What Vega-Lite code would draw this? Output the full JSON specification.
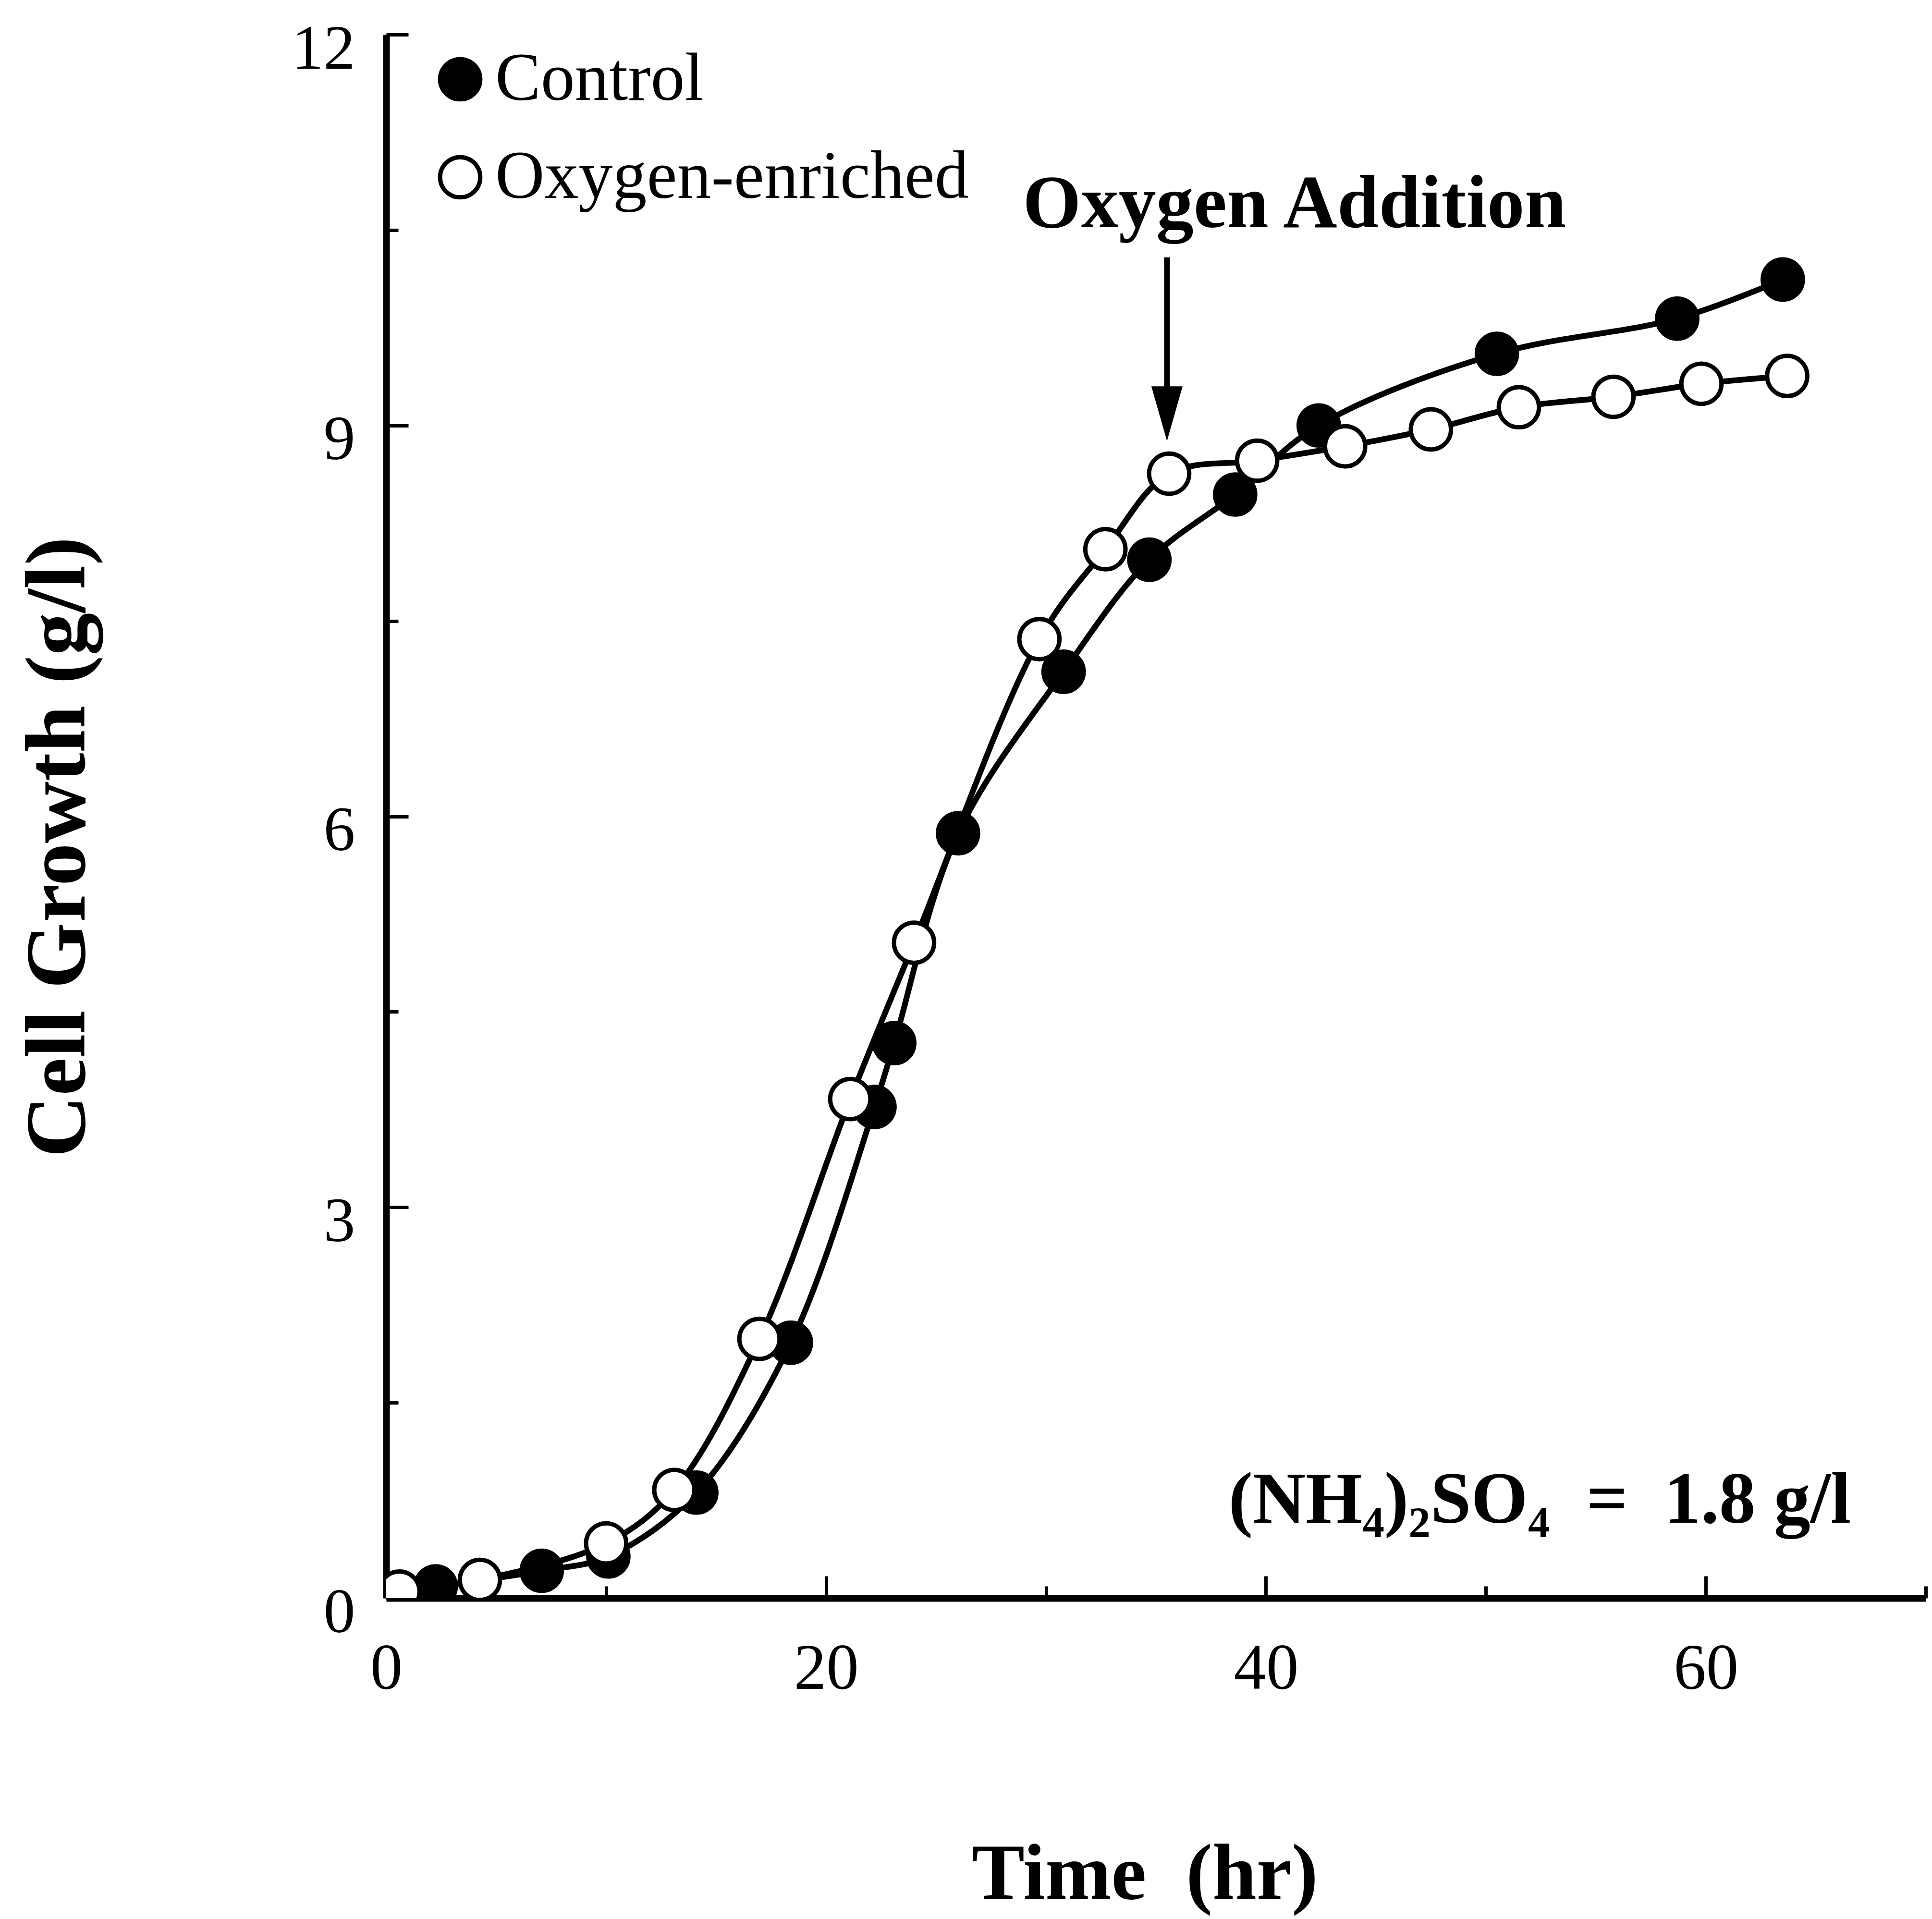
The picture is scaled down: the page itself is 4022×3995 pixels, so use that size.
{
  "$schema": "https://vega.github.io/schema/vega-lite/v6.json",
  "width": 3205,
  "height": 3255,
  "autosize": {"type": "none"},
  "padding": {"left": 804, "top": 72, "right": 13, "bottom": 668},
  "background": "white",
  "config": {"view": {"stroke": null}, "font": "Liberation Serif"},
  "resolve": {"axis": {"x": "independent", "y": "independent"}},
  "datasets": {
    "growth": [
      {"series": "Control", "time": 2.25, "growth": 0.09},
      {"series": "Control", "time": 7.07, "growth": 0.21},
      {"series": "Control", "time": 10.1, "growth": 0.32},
      {"series": "Control", "time": 14.1, "growth": 0.81},
      {"series": "Control", "time": 18.4, "growth": 1.96},
      {"series": "Control", "time": 22.2, "growth": 3.77},
      {"series": "Control", "time": 23.1, "growth": 4.26},
      {"series": "Control", "time": 26.0, "growth": 5.87},
      {"series": "Control", "time": 30.8, "growth": 7.11},
      {"series": "Control", "time": 34.7, "growth": 7.97},
      {"series": "Control", "time": 38.6, "growth": 8.47},
      {"series": "Control", "time": 42.4, "growth": 9.0},
      {"series": "Control", "time": 50.5, "growth": 9.55},
      {"series": "Control", "time": 58.7, "growth": 9.82},
      {"series": "Control", "time": 63.5, "growth": 10.12},
      {"series": "Oxygen-enriched", "time": 0.6, "growth": 0.05},
      {"series": "Oxygen-enriched", "time": 4.26, "growth": 0.14},
      {"series": "Oxygen-enriched", "time": 10.0, "growth": 0.42},
      {"series": "Oxygen-enriched", "time": 13.1, "growth": 0.83},
      {"series": "Oxygen-enriched", "time": 16.97, "growth": 1.99},
      {"series": "Oxygen-enriched", "time": 21.1, "growth": 3.83},
      {"series": "Oxygen-enriched", "time": 24.0, "growth": 5.03},
      {"series": "Oxygen-enriched", "time": 29.7, "growth": 7.36},
      {"series": "Oxygen-enriched", "time": 32.7, "growth": 8.05},
      {"series": "Oxygen-enriched", "time": 35.6, "growth": 8.63},
      {"series": "Oxygen-enriched", "time": 39.6, "growth": 8.73},
      {"series": "Oxygen-enriched", "time": 43.6, "growth": 8.84},
      {"series": "Oxygen-enriched", "time": 47.5, "growth": 8.97},
      {"series": "Oxygen-enriched", "time": 51.5, "growth": 9.14},
      {"series": "Oxygen-enriched", "time": 55.8, "growth": 9.22},
      {"series": "Oxygen-enriched", "time": 59.8, "growth": 9.32},
      {"series": "Oxygen-enriched", "time": 63.7, "growth": 9.38}
    ],
    "arrow": [
      {"time": 35.5, "top": 10.29, "bottom": 9.2, "head": 9.09}
    ],
    "noteCenter": [
      {"time": 41.3, "growth": 10.52, "label": "Oxygen Addition"}
    ],
    "noteRight": [
      {"time": 66.6, "growth": 0.58, "label": "(NH₄)₂SO₄ \u00a0=\u00a0 1.8 g/l"}
    ]
  },
  "layer": [
    {
      "data": {"name": "growth"},
      "mark": {"type": "line", "interpolate": "catmull-rom", "stroke": "black", "strokeWidth": 12, "clip": true},
      "encoding": {
        "x": {
          "field": "time", "type": "quantitative",
          "scale": {"domain": [0, 70], "nice": false, "zero": false},
          "axis": {
            "orient": "bottom",
            "values": [0, 20, 40, 60],
            "format": "d",
            "ticks": false,
            "domainWidth": 14, "domainColor": "black",
            "grid": false, "labelFlush": false, "labelOverlap": false, "labelLimit": 1000,
            "labelFont": "Liberation Serif", "labelFontSize": 135, "labelColor": "black",
            "labelBaseline": "alphabetic", "labelPadding": 188,
            "title": "Time \u00a0(hr)",
            "titleFont": "Liberation Serif", "titleFontWeight": "bold", "titleFontSize": 165, "titleColor": "black",
            "titleX": 1579, "titleY": 625, "titleBaseline": "alphabetic", "titleAlign": "center"
          }
        },
        "y": {
          "field": "growth", "type": "quantitative",
          "scale": {"domain": [0, 12], "nice": false},
          "axis": {
            "orient": "left",
            "values": [0, 3, 6, 9, 12],
            "format": "d",
            "ticks": false,
            "domainWidth": 14, "domainColor": "black",
            "grid": false, "labelFlush": false, "labelOverlap": false, "labelLimit": 1000,
            "labelFont": "Liberation Serif", "labelFontSize": 132, "labelColor": "black",
            "labelBaseline": "middle", "labelPadding": 65, "labelOffset": 30,
            "title": "Cell Growth (g/l)",
            "titleFont": "Liberation Serif", "titleFontWeight": "bold", "titleFontSize": 178, "titleColor": "black",
            "titleX": -682, "titleY": 1691, "titleBaseline": "middle", "titleAlign": "center", "titleAngle": -90
          }
        },
        "detail": {"field": "series", "type": "nominal"}
      }
    },
    {
      "data": {"name": "growth"},
      "mark": {"type": "point", "shape": "circle", "filled": true, "stroke": "black", "strokeWidth": 9, "size": 7000, "opacity": 1, "clip": true},
      "encoding": {
        "x": {"field": "time", "type": "quantitative", "axis": null},
        "y": {"field": "growth", "type": "quantitative", "axis": null},
        "fill": {
          "field": "series", "type": "nominal",
          "scale": {"domain": ["Control", "Oxygen-enriched"], "range": ["black", "white"]},
          "legend": {
            "title": null, "orient": "none", "legendX": 83, "legendY": 22,
            "symbolType": "circle", "symbolSize": 7000, "symbolStrokeWidth": 9, "symbolStrokeColor": "black",
            "labelFont": "Liberation Serif", "labelFontSize": 142, "labelColor": "black",
            "labelOffset": 2, "rowPadding": 62, "labelLimit": 2000, "padding": 0
          }
        }
      }
    },
    {
      "data": {"name": "arrow"},
      "mark": {"type": "rule", "stroke": "black", "strokeWidth": 12},
      "encoding": {
        "x": {
          "field": "time", "type": "quantitative",
          "axis": {
            "orient": "bottom", "values": [10, 30, 50, 70], "tickSize": -25, "tickWidth": 7, "tickColor": "black",
            "labels": false, "domain": false, "grid": false, "title": null
          }
        },
        "y": {
          "field": "top", "type": "quantitative",
          "axis": {
            "orient": "left", "values": [1.5, 4.5, 7.5, 10.5], "tickSize": -25, "tickWidth": 7, "tickColor": "black",
            "labels": false, "domain": false, "grid": false, "title": null
          }
        },
        "y2": {"field": "bottom"}
      }
    },
    {
      "data": {"name": "arrow"},
      "mark": {"type": "point", "shape": "M -0.57 -1 L 0.57 -1 L 0 1 Z", "filled": true, "fill": "black", "stroke": null, "size": 13000, "opacity": 1},
      "encoding": {
        "x": {
          "field": "time", "type": "quantitative",
          "axis": {
            "orient": "bottom", "values": [0, 20, 40, 60], "tickSize": -46, "tickWidth": 7, "tickColor": "black",
            "labels": false, "domain": false, "grid": false, "title": null
          }
        },
        "y": {
          "field": "head", "type": "quantitative",
          "axis": {
            "orient": "left", "values": [0, 3, 6, 9, 12], "tickSize": -46, "tickWidth": 7, "tickColor": "black",
            "labels": false, "domain": false, "grid": false, "title": null
          }
        }
      }
    },
    {
      "data": {"name": "noteCenter"},
      "mark": {"type": "text", "font": "Liberation Serif", "fontWeight": "bold", "fontSize": 156, "align": "center", "baseline": "alphabetic", "color": "black"},
      "encoding": {
        "x": {"field": "time", "type": "quantitative", "axis": null},
        "y": {"field": "growth", "type": "quantitative", "axis": null},
        "text": {"field": "label"}
      }
    },
    {
      "data": {"name": "noteRight"},
      "mark": {"type": "text", "font": "Liberation Serif", "fontWeight": "bold", "fontSize": 152, "align": "right", "baseline": "alphabetic", "color": "black"},
      "encoding": {
        "x": {"field": "time", "type": "quantitative", "axis": null},
        "y": {"field": "growth", "type": "quantitative", "axis": null},
        "text": {"field": "label"}
      }
    }
  ]
}
